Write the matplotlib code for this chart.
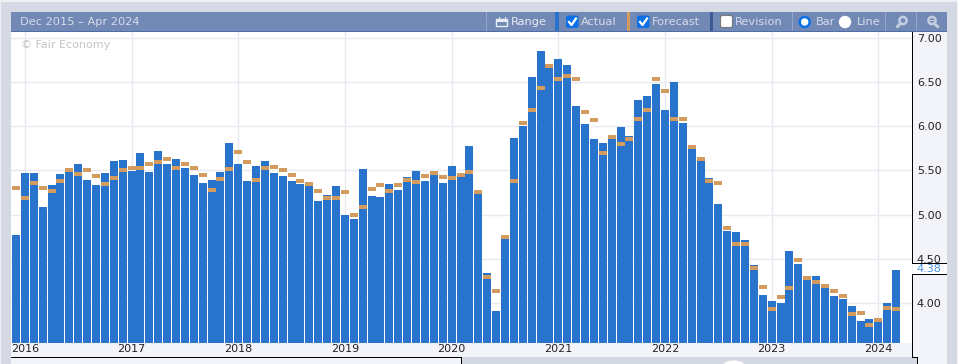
import matplotlib
matplotlib.use('Agg')
import matplotlib.pyplot as plt
from matplotlib.patches import Rectangle, Circle, Ellipse, FancyBboxPatch

W, H = 958, 364

# values, one per month, oldest first
actual = [4.77, 5.47, 5.47, 5.09, 5.33, 5.46, 5.49, 5.57, 5.39, 5.33,
          5.47, 5.61, 5.62, 5.49, 5.70, 5.48, 5.72, 5.57, 5.63, 5.53,
          5.45, 5.36, 5.39, 5.48, 5.81, 5.57, 5.38, 5.55, 5.61, 5.47,
          5.44, 5.38, 5.35, 5.32, 5.15, 5.22, 5.32, 5.00, 4.95, 5.52,
          5.21, 5.20, 5.35, 5.28, 5.42, 5.49, 5.38, 5.45, 5.36, 5.55,
          5.42, 5.77, 5.23, 4.34, 3.91, 4.73, 5.87, 6.00, 6.55, 6.85,
          6.66, 6.76, 6.69, 6.23, 6.02, 5.86, 5.81, 5.86, 5.99, 5.89,
          6.30, 6.34, 6.47, 6.18, 6.50, 6.03, 5.74, 5.61, 5.41, 5.12,
          4.82, 4.80, 4.71, 4.43, 4.09, 4.03, 4.00, 4.59, 4.44, 4.26,
          4.31, 4.17, 4.08, 4.05, 3.97, 3.80, 3.82, 3.79, 4.00, 4.38]
forecast = [5.30, 5.19, 5.36, 5.30, 5.27, 5.38, 5.51, 5.46, 5.50, 5.44,
            5.35, 5.41, 5.50, 5.53, 5.53, 5.57, 5.59, 5.63, 5.53, 5.57,
            5.53, 5.45, 5.28, 5.40, 5.52, 5.71, 5.59, 5.39, 5.53, 5.54,
            5.50, 5.45, 5.38, 5.35, 5.27, 5.19, 5.19, 5.26, 5.00, 5.09,
            5.29, 5.33, 5.27, 5.33, 5.39, 5.37, 5.44, 5.47, 5.42, 5.41,
            5.45, 5.48, 5.26, 4.30, 4.14, 4.75, 5.38, 6.04, 6.18, 6.43,
            6.68, 6.53, 6.57, 6.53, 6.16, 6.07, 5.70, 5.88, 5.80, 5.86,
            6.08, 6.18, 6.53, 6.40, 6.08, 6.08, 5.76, 5.63, 5.38, 5.36,
            4.85, 4.67, 4.67, 4.40, 4.18, 3.94, 4.07, 4.17, 4.49, 4.29,
            4.24, 4.20, 4.14, 4.08, 3.88, 3.89, 3.76, 3.81, 3.95, 3.94]
year_pos = [1, 13, 25, 37, 49, 61, 73, 85, 97]
year_labels = ['2016', '2017', '2018', '2019', '2020', '2021', '2022', '2023', '2024']
y_ticks = [4.0, 4.5, 5.0, 5.5, 6.0, 6.5, 7.0]

BLUE = '#2874cc'
TAN = '#d39b5e'
HEAD = '#7389b5'
BACK = '#d5d9e3'
PALE = '#f3f4f9'
GRID = '#e8eaf3'
HEADTXT = '#d5dcea'
ICON = '#c3cde0'

fig = plt.figure(figsize=(W / 100, H / 100), dpi=100, facecolor=BACK)

# page chrome, drawn in pixel coordinates
bg = fig.add_axes([0, 0, 1, 1], zorder=0)
bg.set_xlim(0, W)
bg.set_ylim(H, 0)
bg.axis('off')


def box(ax, x, y, w, h, color):
    ax.add_patch(Rectangle((x, y), w, h, facecolor=color, edgecolor='none'))


box(bg, 0, 0, W, 2, '#eef0f4')
box(bg, 957, 0, 1, H, '#eef0f4')
box(bg, 0, 0, 1, H, '#eef0f4')
box(bg, 11, 12, 936, 19, HEAD)
box(bg, 11, 31, 936, 1.2, '#4f6ea8')
box(bg, 11, 32, 901, 311, 'white')
box(bg, 912, 32, 35, 332, PALE)
box(bg, 912, 357, 5, 7, BACK)
box(bg, 11, 343, 901, 14, PALE)
box(bg, 11, 357, 451, 7, PALE)
box(bg, 11, 357, 451, 1, 'black')
box(bg, 461, 357, 1, 7, 'black')
box(bg, 912, 357, 6, 1, 'black')
box(bg, 917, 357, 1, 7, 'black')
box(bg, 912, 32, 1, 232, 'black')
box(bg, 912, 274, 1, 84, 'black')
box(bg, 912, 263, 35, 1, 'black')
box(bg, 912, 274, 35, 1, 'black')
box(bg, 913, 264, 34, 10, 'white')
bg.add_patch(Ellipse((734, 366), 22, 11, facecolor='white', edgecolor='none'))

# header separators and the coloured legend stripes
for sx in [486, 792, 885, 916]:
    box(bg, sx, 12, 1, 19, '#93a5c8')
box(bg, 555, 12, 4, 19, BLUE)
box(bg, 627, 12, 3, 19, TAN)
box(bg, 710, 12, 3, 19, '#3d5a96')

head_style = dict(color=HEADTXT, fontsize=8.2, va='center', family='DejaVu Sans')
bg.text(20, 22, 'Dec 2015 – Apr 2024', **head_style)
bg.text(511, 22, 'Range', **dict(head_style, color='#e8ecf4'))
bg.text(581, 22, 'Actual', **head_style)
bg.text(652, 22, 'Forecast', **head_style)
bg.text(735, 22, 'Revision', **head_style)
bg.text(816, 22, 'Bar', **head_style)
bg.text(857, 22, 'Line', **head_style)

# range icon
bg.add_patch(Rectangle((496.5, 19), 11, 7, facecolor='none', edgecolor='#e8ecf4', lw=1))
box(bg, 496.5, 19, 11, 2.5, '#e8ecf4')
for tx in [499, 505]:
    box(bg, tx, 17, 1, 2, '#e8ecf4')

# check boxes
for cx in [566, 637]:
    bg.add_patch(FancyBboxPatch((cx, 15.5), 12.5, 12.5, boxstyle='round,pad=0,rounding_size=2',
                                facecolor='#0b6fe8', edgecolor='none'))
    bg.plot([cx + 3, cx + 5.5, cx + 10], [22, 25, 18.5], color='white', lw=1.6)
bg.add_patch(FancyBboxPatch((720.5, 15.5), 12, 12, boxstyle='round,pad=0,rounding_size=2',
                            facecolor='white', edgecolor='#777777', lw=0.8))

# radio buttons
bg.add_patch(Circle((804.7, 22), 5, facecolor='white', edgecolor='#0b6fe8', lw=1.8))
bg.add_patch(Circle((845, 22), 6.2, facecolor='white', edgecolor='none'))

# zoom icons
bg.add_patch(Circle((903, 20.5), 3.6, facecolor='none', edgecolor=ICON, lw=1.8))
bg.plot([900.5, 897.5], [23.5, 26.5], color=ICON, lw=2.2)
bg.add_patch(Circle((932, 20.5), 3.6, facecolor='none', edgecolor=ICON, lw=1.8))
box(bg, 930, 19.8, 4, 1.4, ICON)
bg.plot([934.5, 937.5], [23.5, 26.5], color=ICON, lw=2.2)

# chart itself
px_step = 8.89
px_per_unit = 88.6
ax = fig.add_axes([11 / W, (H - 343) / H, 901 / W, 311 / H], zorder=1)
ax.patch.set_alpha(0)
ax.set_xlim((11 - 16) / px_step, (912 - 16) / px_step)
ax.set_ylim(4 - (343 - 303.3) / px_per_unit, 4 + (303.3 - 32) / px_per_unit)
xs = list(range(len(actual)))
ax.bar(xs, actual, width=8 / px_step, color=BLUE, linewidth=0, zorder=2)
# forecast dash is 4 pixels tall whatever the value
dash = 4 / px_per_unit
ax.bar(xs, [dash] * len(xs), width=8 / px_step, bottom=[f - dash / 2 for f in forecast],
       color=TAN, linewidth=0, zorder=3)

ax.set_xticks(year_pos)
ax.set_xticklabels(year_labels)
ax.set_yticks(y_ticks)
ax.set_yticklabels(['%.2f' % v for v in y_ticks])
ax.yaxis.tick_right()
ax.grid(True, color=GRID, lw=1, zorder=0)
ax.set_axisbelow(True)
ax.tick_params(axis='x', length=0, labelsize=8.0, labelcolor='#222222', pad=0.5)
ax.tick_params(axis='y', length=0, labelsize=8.0, labelcolor='#222222', pad=3.5)
for spine in ax.spines.values():
    spine.set_visible(False)

ax.text(0.011, 0.958, '© Fair Economy', transform=ax.transAxes, color='#c4c4c4',
        fontsize=8.0, va='center')

# latest value tag on the value axis
bg.text(929, 269.5, '%.2f' % actual[-1], color='#4a90e2', fontsize=8.0, ha='center', va='center')

fig.savefig('out.png', dpi=100, facecolor=fig.get_facecolor())
